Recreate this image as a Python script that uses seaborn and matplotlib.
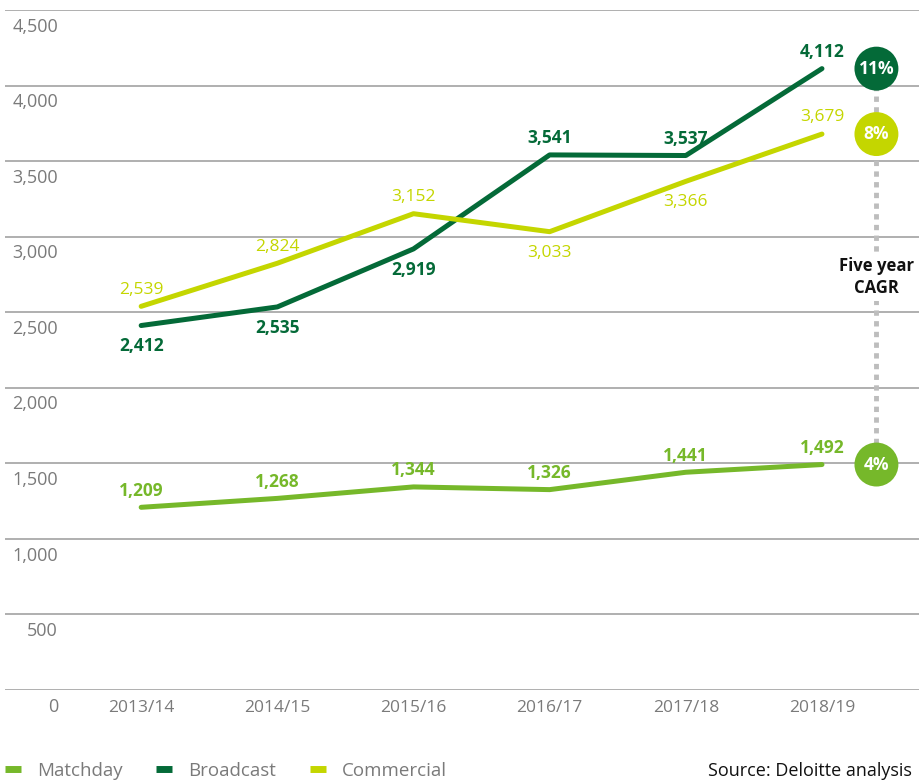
import pandas as pd
import matplotlib.pyplot as plt
import seaborn as sns
import numpy as np

# -------------------------------- DATA --------------------------------

seasons = ["2013/14", "2014/15", "2015/16", "2016/17", "2017/18", "2018/19"]
matchday = [1209, 1268, 1344, 1326, 1441, 1492]
broadcast = [2412, 2535, 2919, 3541, 3537, 4112]
commercial = [2539, 2824, 3152, 3033, 3366, 3679]
cagr = {"Broadcast": "11%", "Commercial": "8%", "Matchday": "4%"}

# label above (+1) or below (-1) each point
matchday_pos = [1, 1, 1, 1, 1, 1]
broadcast_pos = [-1, -1, -1, 1, 1, 1]
commercial_pos = [1, 1, 1, -1, -1, 1]

yticks = list(range(0, 4501, 500))

colors = {"Matchday": "#76B82A", "Broadcast": "#046A38", "Commercial": "#C4D600"}
weights = {"Matchday": "bold", "Broadcast": "bold", "Commercial": "normal"}

df = pd.DataFrame({
    "idx": list(range(len(seasons))) * 3,
    "value": matchday + broadcast + commercial,
    "stream": ["Matchday"] * 6 + ["Broadcast"] * 6 + ["Commercial"] * 6,
})

# ------------------------------ PLOT ----------------------------------

sns.set_style("white")
plt.rcParams["font.family"] = ["Open Sans", "DejaVu Sans"]

fig = plt.figure(figsize=(9.2, 7.82), dpi=100)
ax = fig.add_axes([5 / 920, 1 - 690 / 782, 915 / 920, 680 / 782])

sns.lineplot(data=df, x="idx", y="value", hue="stream", palette=colors,
             linewidth=3.6, ax=ax, legend=False, zorder=3,
             solid_capstyle="round", solid_joinstyle="round")

ax.set_xlim(-1.0, 5.72)
ax.set_ylim(0, 4500)
for sp in ax.spines.values():
    sp.set_visible(False)

# gridlines + y labels under each line
ax.set_yticks(yticks)
ax.set_yticklabels([])
ax.tick_params(axis="y", length=0)
for t in yticks:
    ax.axhline(t, color="#9a9a9a", lw=1.1, zorder=1)
    ax.annotate(f"{t:,}", xy=(53 / 915, t),
                xycoords=("axes fraction", "data"),
                xytext=(0, -12), textcoords="offset points",
                ha="right", va="center", color="#7a7a7a", fontsize=13)

ax.set_xticks(range(len(seasons)))
ax.set_xticklabels(seasons, color="#7a7a7a", fontsize=12.5)
ax.tick_params(axis="x", length=0, pad=7)
ax.set_xlabel("")
ax.set_ylabel("")

# data labels
for name, vals, pos in [("Matchday", matchday, matchday_pos),
                        ("Broadcast", broadcast, broadcast_pos),
                        ("Commercial", commercial, commercial_pos)]:
    for i, (v, p) in enumerate(zip(vals, pos)):
        ax.annotate(f"{v:,}", xy=(i, v), xytext=(0, 12 if p > 0 else -15),
                    textcoords="offset points", ha="center", va="center",
                    color=colors[name], fontsize=12.5, fontweight=weights[name],
                    zorder=5)

# CAGR circles
cx = 5.4
last = {"Matchday": matchday[-1], "Broadcast": broadcast[-1],
        "Commercial": commercial[-1]}
ax.plot([cx, cx], [last["Matchday"], last["Broadcast"]], color="#bdbdbd",
        lw=3.5, linestyle=(0, (1.1, 1.1)), zorder=2)
for name, txt in cagr.items():
    ax.scatter([cx], [last[name]], s=1000, color=colors[name], zorder=6,
               edgecolors="none")
    ax.text(cx, last[name], txt, ha="center", va="center", color="white",
            fontsize=12.5, fontweight="bold", zorder=7)
ax.text(cx, 2735, "Five year\nCAGR", ha="center", va="center", fontsize=12,
        fontweight="bold", color="#111111", linespacing=1.3, zorder=4,
        bbox=dict(facecolor="white", edgecolor="none", pad=3))

# legend
handles = [plt.Line2D([], [], color=colors[n], lw=5, solid_capstyle="butt")
           for n in ["Matchday", "Broadcast", "Commercial"]]
leg = fig.legend(handles, ["Matchday", "Broadcast", "Commercial"],
                 loc="center left", bbox_to_anchor=(-0.013, 1 - 771 / 782),
                 ncol=3, frameon=False, fontsize=13.5, handlelength=0.85,
                 handletextpad=0.85, columnspacing=1.8)
for t in leg.get_texts():
    t.set_color("#7a7a7a")

fig.text(708 / 920, 1 - 771 / 782, "Source: Deloitte analysis", ha="left",
         va="center", fontsize=13, color="#111111")

fig.savefig("out.png", dpi=100)
